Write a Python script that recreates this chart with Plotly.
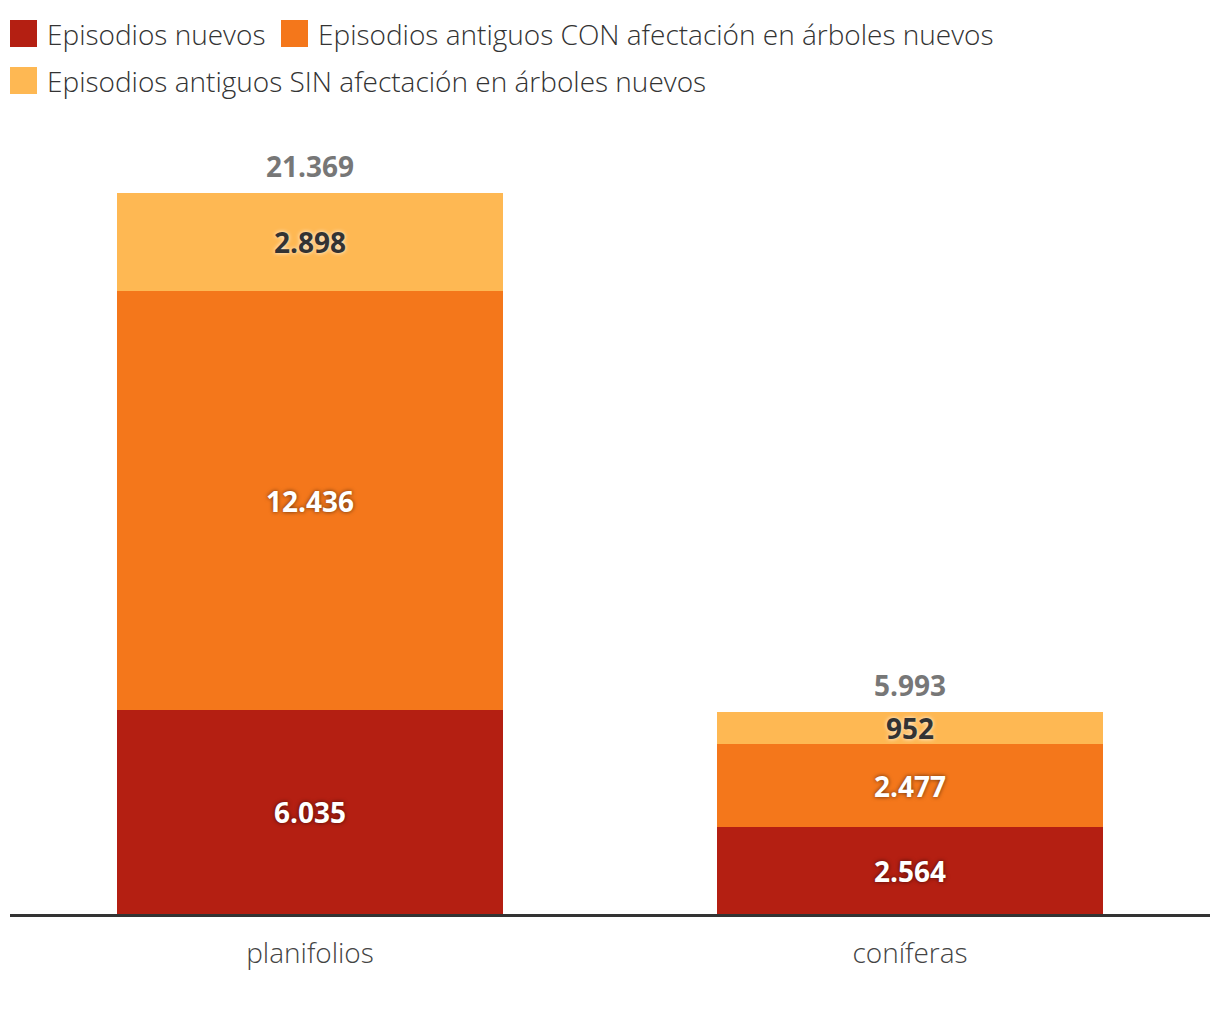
import plotly.graph_objects as go

categories = ["planifolios", "coníferas"]
series_names = [
    "Episodios nuevos",
    "Episodios antiguos CON afectación en árboles nuevos",
    "Episodios antiguos SIN afectación en árboles nuevos",
]
nuevos = [6035, 2564]
con_afect = [12436, 2477]
sin_afect = [2898, 952]

colors = ["#B41F12", "#F4771B", "#FEB853"]
series_values = [nuevos, con_afect, sin_afect]

W, H = 1220, 1020
ML, MR, MT, MB = 10, 10, 130, 106
PW, PH = W - ML - MR, H - MT - MB

totals = [sum(v) for v in zip(*series_values)]
ymax = totals[0] * PH / 721.0

def fmt(n):
    return f"{n:,}".replace(",", ".")

fig = go.Figure()
for name, vals, col, i in zip(series_names, series_values, colors, range(3)):
    if i == 2:
        tf = dict(family="Open Sans", size=28, weight=700, color="#333333",
                  shadow="0px 0px 4px rgba(255,255,255,0.9)")
    else:
        tf = dict(family="Open Sans", size=28, weight=700, color="#FFFFFF",
                  shadow="0px 0px 4px rgba(0,0,0,0.6)")
    fig.add_trace(go.Bar(
        x=categories, y=vals, name=name, marker=dict(color=col, line=dict(width=0)),
        text=[fmt(v) for v in vals], textposition="inside", insidetextanchor="middle",
        textfont=tf, showlegend=False, hoverinfo="skip", cliponaxis=False,
    ))

for cat, tot in zip(categories, totals):
    fig.add_annotation(x=cat, y=tot, text=fmt(tot), showarrow=False, yanchor="middle",
                       yshift=27, font=dict(family="Open Sans", size=28, weight=700, color="#777777"))

# manual legend
def px2x(px):
    return (px - ML) / PW

def py2y(py):
    return (H - MB - py) / PH

legend_pos = [(10, 20), (281, 20), (10, 67)]
for (lx, ly), name, col in zip(legend_pos, series_names, colors):
    fig.add_shape(type="rect", xref="paper", yref="paper",
                  x0=px2x(lx), x1=px2x(lx + 27), y0=py2y(ly + 27), y1=py2y(ly),
                  fillcolor=col, line=dict(width=0))
    fig.add_annotation(xref="paper", yref="paper", x=px2x(lx + 35), y=py2y(ly + 14),
                       xanchor="left", yanchor="middle", text=name, showarrow=False,
                       font=dict(family="Open Sans", size=28, weight=300, color="#333333"))

fig.update_layout(
    width=W, height=H, margin=dict(l=ML, r=MR, t=MT, b=MB, pad=0),
    barmode="stack", bargap=0.357,
    paper_bgcolor="white", plot_bgcolor="white",
    separators=",.",
    uniformtext=dict(minsize=28, mode="show"),
    xaxis=dict(showline=True, linecolor="#333333", linewidth=3, ticks="",
               tickfont=dict(family="Open Sans", size=28, weight=300, color="#444444"),
               showgrid=False, zeroline=False, ticklabelstandoff=12),
    yaxis=dict(range=[0, ymax], visible=False, showgrid=False, zeroline=False),
    font=dict(family="Open Sans"),
)

fig.write_html("out.html", config={"displayModeBar": False},
               post_script="document.body.style.margin='0';document.body.style.padding='0';")
